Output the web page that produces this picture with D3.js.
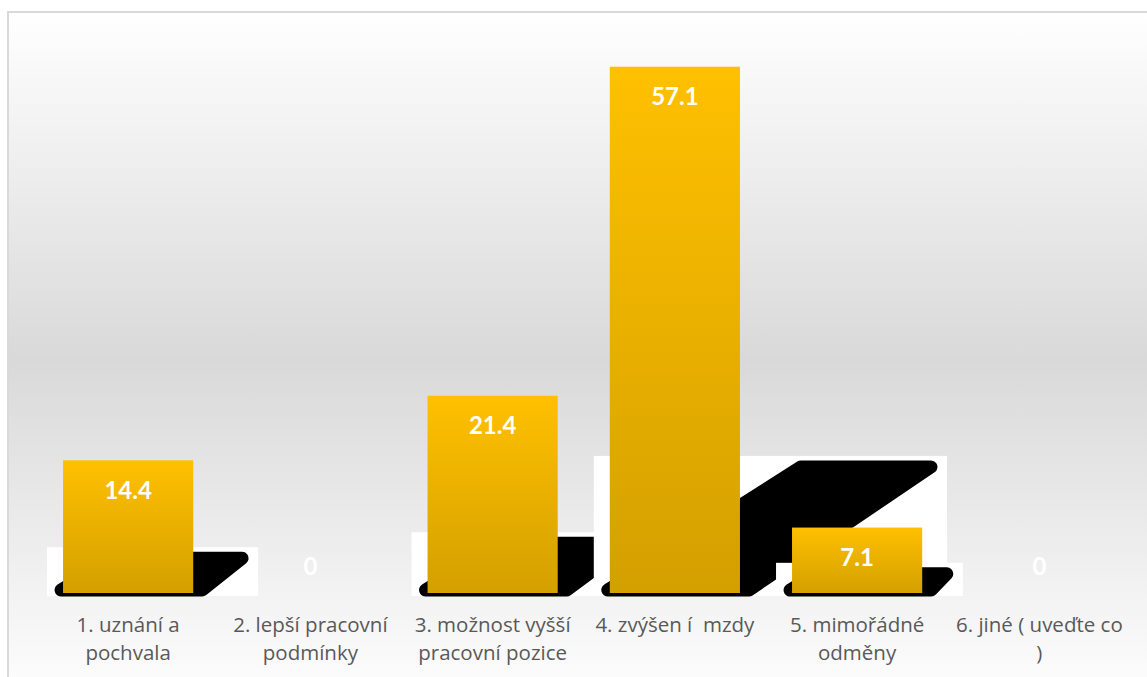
<!DOCTYPE html>
<html>
<head>
<meta charset="utf-8">
<script src="https://cdn.jsdelivr.net/npm/d3@7"></script>
<style>
  html, body { margin: 0; padding: 0; background: #ffffff; overflow: hidden; }
  svg { display: block; }
  text { font-family: Lato, "Open Sans", sans-serif; }
</style>
</head>
<body>
<script>
// Categories (explicit line breaks as wrapped in the chart) and their values
const categories = [
  "1. uznání a\npochvala",
  "2. lepší pracovní\npodmínky",
  "3. možnost vyšší\npracovní pozice",
  "4. zvýšen í  mzdy",
  "5. mimořádné\nodměny",
  "6. jiné ( uveďte co\n)"
];
const values = [14.4, 0, 21.4, 57.1, 7.1, 0];
const yDomain = [0, 60];

const W = 1147, H = 677;
const svg = d3.select("body").append("svg")
  .attr("width", W).attr("height", H);

const defs = svg.append("defs");

// Plot background: white → grey → white vertical fill
const bg = defs.append("linearGradient").attr("id", "bgFill")
  .attr("x1", 0).attr("y1", 0).attr("x2", 0).attr("y2", 1);
bg.append("stop").attr("offset", "0%").attr("stop-color", "#ffffff");
bg.append("stop").attr("offset", "50%").attr("stop-color", "#d9d9d9");
bg.append("stop").attr("offset", "100%").attr("stop-color", "#ffffff");

// Bar fill: bright amber at the top, darker gold at the base
const barFill = defs.append("linearGradient").attr("id", "barFill")
  .attr("x1", 0).attr("y1", 0).attr("x2", 0).attr("y2", 1);
barFill.append("stop").attr("offset", "0%").attr("stop-color", "#ffc000");
barFill.append("stop").attr("offset", "100%").attr("stop-color", "#d4a000");

// Chart area with light border
svg.append("rect")
  .attr("x", 8).attr("y", 12)
  .attr("width", W + 20).attr("height", 696)
  .attr("fill", "url(#bgFill)")
  .attr("stroke", "#d9d9d9").attr("stroke-width", 2);

const x = d3.scaleBand()
  .domain(categories)
  .range([37, 1130.5])
  .paddingInner(0.2857)
  .paddingOuter(0.1429);

const y = d3.scaleLinear().domain(yDomain).range([593, 40]);

const base = y(0);
const rows = categories.map((c, i) => ({ c, v: values[i] }));

const groups = svg.append("g").selectAll("g")
  .data(rows)
  .join("g");

groups.each(function (d) {
  const g = d3.select(this);
  if (d.v <= 0) return;
  const L = x(d.c), R = L + x.bandwidth();
  const top = y(d.v);
  const h = base - top;
  // slanted cast shadow behind each bar, on a white backing panel
  const sh = 14 + 0.232 * h;
  const shift = 7 + 0.361 * h;
  const B = base + 3;
  g.append("rect")
    .attr("x", L - 16).attr("y", B - sh - 4)
    .attr("width", (R + shift + 10) - (L - 16))
    .attr("height", sh + 4)
    .attr("fill", "#ffffff");
  const pts = [
    [L - 2, B - 6],
    [R + 9, B - 6],
    [R + shift - 6, B - sh + 7],
    [L + shift - 6, B - sh + 7]
  ];
  g.append("path")
    .attr("d", d3.line()(pts) + "Z")
    .attr("fill", "#000000")
    .attr("stroke", "#000000")
    .attr("stroke-width", 13)
    .attr("stroke-linejoin", "round");
  g.append("rect")
    .attr("x", L).attr("y", top)
    .attr("width", x.bandwidth()).attr("height", h)
    .attr("fill", "url(#barFill)");
});

// Value labels
svg.append("g").selectAll("text")
  .data(rows)
  .join("text")
  .attr("x", d => x(d.c) + x.bandwidth() / 2)
  .attr("y", d => d.v > 0 ? y(d.v) + 29 : base - 28)
  .attr("text-anchor", "middle")
  .attr("dominant-baseline", "central")
  .attr("fill", "#ffffff")
  .attr("font-weight", "bold")
  .attr("font-size", 24)
  .text(d => String(d.v));

// Category labels
const cat = svg.append("g").selectAll("text")
  .data(categories)
  .join("text")
  .attr("text-anchor", "middle")
  .attr("fill", "#595959")
  .attr("font-size", 20.5)
  .style("font-family", "'Open Sans', sans-serif")
  .style("white-space", "pre");
cat.each(function (c) {
  const t = d3.select(this);
  const cx = x(c) + x.bandwidth() / 2;
  c.split("\n").forEach((line, k) => {
    t.append("tspan")
      .attr("x", cx)
      .attr("y", 632 + k * 28)
      .text(line);
  });
});
</script>
</body>
</html>
